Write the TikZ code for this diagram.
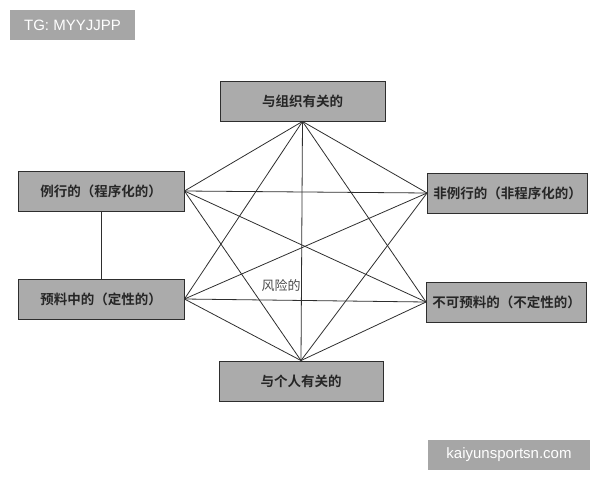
\documentclass[tikz,border=0pt]{standalone}
\usepackage{fontspec}
\newfontfamily\cjk{Noto Sans CJK SC}
\newfontfamily\cjkbold{Noto Sans CJK SC}[BoldFont={* Bold}]
\setsansfont{Liberation Sans}
\usetikzlibrary{positioning}
\definecolor{boxgray}{HTML}{ABABAB}
\definecolor{linegray}{HTML}{2E2E2E}
\definecolor{markgray}{HTML}{A6A6A6}
\tikzset{
    riskbox/.style={draw=linegray, line width=0.9pt, fill=boxgray, minimum height=40pt,
        inner sep=0pt, font=\cjkbold\bfseries\fontsize{13.5}{16}\selectfont, text=black!85},
    link/.style={draw=linegray, line width=0.8pt},
    wmark/.style={fill=markgray, text=white, inner sep=0pt, font=\sffamily\fontsize{15}{18}\selectfont}
}

\begin{document}
\begin{tikzpicture}[x=1pt, y=-1pt]
        \useasboundingbox (0,0) rectangle (600,480);
        % Boxes
        \node[riskbox, minimum width=165pt] (org) at (302.5,101) {与组织有关的};
        \node[riskbox, minimum width=166pt] (routine) at (101,191) {例行的（程序化的）};
        \node[riskbox, minimum width=166pt] (expected) at (101,299) {预料中的（定性的）};
        \node[riskbox, minimum width=160pt] (nonroutine) at (507.5,193) {非例行的（非程序化的）};
        \node[riskbox, minimum width=160pt] (unexpected) at (506.5,302) {不可预料的（不定性的）};
        \node[riskbox, minimum width=164pt] (person) at (301,381) {与个人有关的};
        % Centre label
        \node[font=\cjk\fontsize{13}{16}\selectfont, text=black!70] (risk) at (281,286) {风险的};
        % Left pair
        \draw[link] (routine) -- (expected);
        % Web of links
        \foreach \a/\b in {org.south/routine.east, org.south/expected.east,
                org.south/nonroutine.west, org.south/unexpected.west, org.south/person.north,
                routine.east/nonroutine.west, routine.east/unexpected.west, routine.east/person.north,
                expected.east/nonroutine.west, expected.east/unexpected.west, expected.east/person.north,
                person.north/nonroutine.west, person.north/unexpected.west}
            \draw[link] (\a) -- (\b);
        % Watermarks
        \node[wmark, minimum width=125pt, minimum height=30pt] (tg) at (72.5,25) {TG: MYYJJPP};
        \node[wmark, minimum width=162pt, minimum height=30pt] (site) at (509,455) {kaiyunsportsn.com};
    \end{tikzpicture}
\end{document}
